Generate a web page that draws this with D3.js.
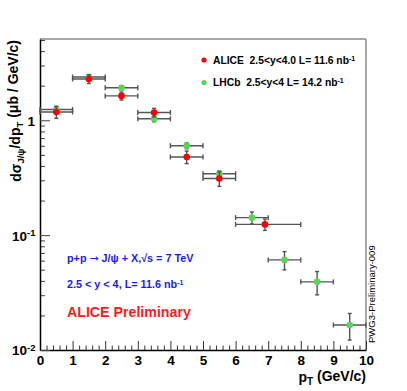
<!DOCTYPE html>
<html>
<head>
<meta charset="utf-8">
<script src="https://cdn.jsdelivr.net/npm/d3@7"></script>
<style>
  body { margin: 0; background: #fff; }
  svg { font-family: "Liberation Sans", Arial, sans-serif; }
  .tick-lbl { font-size: 13.5px; font-weight: bold; }
</style>
</head>
<body>
<div id="chart"></div>
<script>
// ALICE points (red)
const aliceX = [0.5, 1.5, 2.5, 3.5, 4.5, 5.5, 6.9];
const aliceXLo = [0, 1, 2, 3, 4, 5, 6];
const aliceXHi = [1, 2, 3, 4, 5, 6, 8];
const aliceY = [1.18, 2.29, 1.63, 1.17, 0.479, 0.311, 0.124];
const aliceErr = [0.14, 0.2, 0.13, 0.1, 0.06, 0.045, 0.014];

// LHCb points (green)
const lhcbX = [0.5, 1.5, 2.5, 3.5, 4.5, 5.5, 6.5, 7.5, 8.5, 9.5];
const lhcbY = [1.24, 2.38, 1.92, 1.03, 0.6, 0.342, 0.142, 0.0609, 0.0392, 0.0165];
const lhcbErr = [0.08, 0.12, 0.08, 0.06, 0.035, 0.02, 0.017, 0.011, 0.009, 0.0043];

const xTicks = [0, 1, 2, 3, 4, 5, 6, 7, 8, 9, 10];
const yMajor = [0.01, 0.1, 1];
const yLabels = [["10", "-2"], ["10", "-1"], ["1", ""]];

const width = 407;
const height = 391;
const padL = 40, padR = 366, padT = 39, padB = 350;

const svg = d3.select("#chart").append("svg")
  .attr("width", width)
  .attr("height", height);

const x = d3.scaleLinear().domain([0, 10]).range([padL, padR]);
const y = d3.scaleLog().domain([0.01, 5.1]).range([padB, padT]);

// frame (top and right in grey)
svg.append("line").attr("x1", padL).attr("x2", padR).attr("y1", padT).attr("y2", padT)
  .attr("stroke", "#8c8c8c").attr("stroke-width", 1.5);
svg.append("line").attr("x1", padR).attr("x2", padR).attr("y1", padT).attr("y2", padB)
  .attr("stroke", "#8c8c8c").attr("stroke-width", 1.5);

// x axis
const minorX = d3.range(0, 10.01, 0.2).filter((v) => Math.abs(v - Math.round(v)) > 0.01);
svg.append("g")
  .attr("transform", `translate(0, ${padB})`)
  .call(d3.axisBottom(x).tickValues(minorX).tickSize(-4.5).tickFormat(""))
  .call((g) => g.select(".domain").remove())
  .call((g) => g.selectAll("line").attr("stroke", "#333"));

svg.append("g")
  .attr("transform", `translate(0, ${padB})`)
  .call(d3.axisBottom(x).tickValues(xTicks).tickSize(-9).tickSizeOuter(0).tickPadding(5).tickFormat(d3.format("d")))
  .call((g) => g.select(".domain").attr("stroke", "#000").attr("stroke-width", 1.5))
  .call((g) => g.selectAll("line").attr("stroke", "#333"))
  .call((g) => g.selectAll("text").attr("class", "tick-lbl").attr("fill", "#000"));
svg.selectAll("g").attr("font-family", null).attr("font-size", null);

// y axis
const minorY = [];
[0.01, 0.1, 1].forEach((d) => {
  for (let k = 2; k <= 9; k++) if (d * k <= 5.1) minorY.push(d * k);
});
svg.append("g")
  .attr("transform", `translate(${padL}, 0)`)
  .call(d3.axisLeft(y).tickValues(minorY).tickSize(-5).tickFormat(""))
  .call((g) => g.select(".domain").remove())
  .call((g) => g.selectAll("line").attr("stroke", "#444"));

const yAxis = svg.append("g")
  .attr("transform", `translate(${padL}, 0)`)
  .call(d3.axisLeft(y).tickValues(yMajor).tickSize(-10).tickSizeOuter(0).tickPadding(6).tickFormat(""))
  .attr("font-family", null).attr("font-size", null);
yAxis.select(".domain").attr("stroke", "#000").attr("stroke-width", 1.5);
yAxis.selectAll("line").attr("stroke", "#444");
yAxis.selectAll(".tick").each(function (d, i) {
  const t = d3.select(this).select("text")
    .attr("class", "tick-lbl").attr("fill", "#000")
    .attr("dy", "0.36em");
  t.append("tspan").text(yLabels[i][0]);
  if (yLabels[i][1]) {
    t.attr("text-anchor", "start").attr("x", -28);
    t.append("tspan").attr("dy", "-0.45em").attr("font-size", "9.5px").text(yLabels[i][1]);
  } else {
    t.attr("x", -5);
  }
});

// error bars + markers
function drawSeries(xs, ys, errs, xlo, xhi, color) {
  const g = svg.append("g");
  const pts = xs.map((d, i) => ({
    x: d, y: ys[i], e: errs[i],
    lo: xlo ? xlo[i] : d - 0.5, hi: xhi ? xhi[i] : d + 0.5
  }));
  const bars = g.selectAll("g.pt").data(pts).enter().append("g").attr("class", "pt")
    .attr("stroke", "#555").attr("stroke-width", 1.4);
  bars.append("line")
    .attr("x1", (d) => x(d.lo)).attr("x2", (d) => x(d.hi))
    .attr("y1", (d) => y(d.y)).attr("y2", (d) => y(d.y));
  bars.append("line")
    .attr("x1", (d) => x(d.x)).attr("x2", (d) => x(d.x))
    .attr("y1", (d) => y(d.y - d.e)).attr("y2", (d) => y(d.y + d.e));
  // caps
  bars.append("line").attr("x1", (d) => x(d.lo)).attr("x2", (d) => x(d.lo))
    .attr("y1", (d) => y(d.y) - 2.5).attr("y2", (d) => y(d.y) + 2.5);
  bars.append("line").attr("x1", (d) => x(d.hi)).attr("x2", (d) => x(d.hi))
    .attr("y1", (d) => y(d.y) - 2.5).attr("y2", (d) => y(d.y) + 2.5);
  bars.append("line").attr("x1", (d) => x(d.x) - 2).attr("x2", (d) => x(d.x) + 2)
    .attr("y1", (d) => y(d.y - d.e)).attr("y2", (d) => y(d.y - d.e));
  bars.append("line").attr("x1", (d) => x(d.x) - 2).attr("x2", (d) => x(d.x) + 2)
    .attr("y1", (d) => y(d.y + d.e)).attr("y2", (d) => y(d.y + d.e));
  bars.append("circle")
    .attr("cx", (d) => x(d.x)).attr("cy", (d) => y(d.y))
    .attr("r", 3.3).attr("fill", color).attr("stroke", "none");
}
drawSeries(lhcbX, lhcbY, lhcbErr, null, null, "#55d655");
drawSeries(aliceX, aliceY, aliceErr, aliceXLo, aliceXHi, "#ff0000");

// legend
const legend = [
  { color: "#ff0000", name: "ALICE  2.5<y<4.0 L= 11.6 nb", y: 60 },
  { color: "#55d655", name: "LHCb  2.5<y<4 L= 14.2 nb", y: 82.5 }
];
legend.forEach((d) => {
  svg.append("circle").attr("cx", 204).attr("cy", d.y).attr("r", 2.6).attr("fill", d.color);
  const t = svg.append("text").attr("x", 213).attr("y", d.y).attr("dy", "0.36em")
    .attr("font-size", "10.3px").attr("font-weight", "bold")
    .style("white-space", "pre");
  t.append("tspan").text(d.name);
  t.append("tspan").attr("dy", "-0.45em").attr("font-size", "7px").text("-1");
});

// annotations
const a1 = svg.append("text").attr("x", 67).attr("y", 258).attr("dy", "0.36em")
  .attr("font-size", "10.8px").attr("font-weight", "bold").attr("fill", "#1a1aff");
a1.append("tspan").text("p+p ");
a1.append("tspan").attr("font-family", "DejaVu Sans").attr("font-weight", "normal").text("\u2192");
a1.append("tspan").text(" J/\u03c8 + X,\u221as = 7 TeV");

const a2 = svg.append("text").attr("x", 67).attr("y", 284.5).attr("dy", "0.36em")
  .attr("font-size", "10.8px").attr("font-weight", "bold").attr("fill", "#1a1aff");
a2.append("tspan").text("2.5 < y < 4, L= 11.6 nb");
a2.append("tspan").attr("dy", "-0.45em").attr("font-size", "7px").text("-1");

svg.append("text").attr("x", 67).attr("y", 311.5).attr("dy", "0.36em")
  .attr("font-size", "14.2px").attr("font-weight", "bold").attr("fill", "#ff1a1a")
  .text("ALICE Preliminary");

svg.append("text")
  .attr("transform", "translate(375, 343) rotate(-90)")
  .attr("font-size", "9.5px")
  .text("PWG3-Preliminary-009");

// axis titles
const xt = svg.append("text").attr("x", 366).attr("y", 382).attr("text-anchor", "end")
  .attr("font-size", "14px").attr("font-weight", "bold");
xt.append("tspan").text("p");
xt.append("tspan").attr("dy", "0.3em").attr("font-size", "10px").text("T");
xt.append("tspan").attr("dy", "-0.3em").text(" (GeV/c)");

const yt = svg.append("text")
  .attr("transform", "translate(21, 40) rotate(-90)")
  .attr("text-anchor", "end").attr("font-size", "14px").attr("font-weight", "bold");
yt.append("tspan").text("d\u03c3");
yt.append("tspan").attr("dy", "0.3em").attr("font-size", "9.5px").text("J/\u03c8");
yt.append("tspan").attr("dy", "-0.3em").text("/dp");
yt.append("tspan").attr("dy", "0.3em").attr("font-size", "9.5px").text("T");
yt.append("tspan").attr("dy", "-0.3em").text(" (\u03bcb / GeV/c)");
</script>
</body>
</html>
